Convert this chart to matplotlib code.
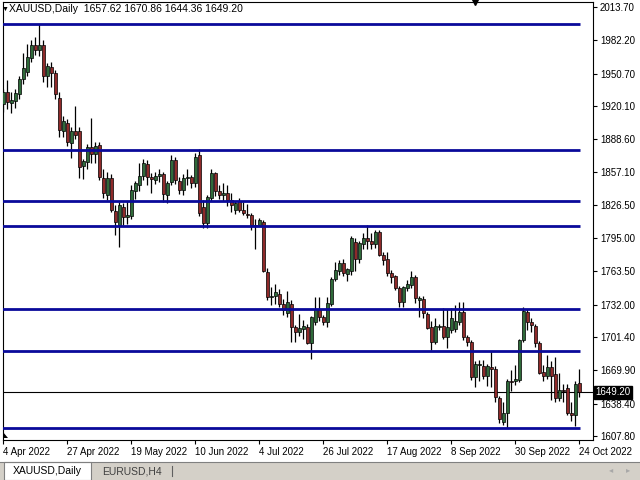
import numpy as np
import pandas as pd
import matplotlib
matplotlib.use("Agg")
import matplotlib.pyplot as plt
from matplotlib.patches import Rectangle, Polygon
from matplotlib.lines import Line2D

plt.rcParams['font.family'] = ['Liberation Sans', 'DejaVu Sans']

# daily bars, Good Friday missing from the feed
dates = pd.bdate_range("2022-04-04", "2022-10-24")
dates = dates[dates != pd.Timestamp("2022-04-15")]

opens = [1922, 1933, 1923, 1925, 1931, 1946, 1952, 1965, 1978, 1973,
         1978, 1948, 1957, 1951, 1928, 1896, 1904, 1885, 1896, 1896,
         1863, 1867, 1881, 1875, 1883, 1852, 1836, 1852, 1821, 1807,
         1824, 1815, 1816, 1840, 1845, 1854, 1865, 1853, 1850, 1854,
         1856, 1836, 1848, 1869, 1849, 1841, 1852, 1853, 1847, 1874,
         1824, 1809, 1833, 1857, 1840, 1836, 1838, 1831, 1822, 1830,
         1822, 1818, 1817, 1807, 1807, 1810, 1763, 1739, 1740, 1742,
         1733, 1724, 1733, 1711, 1706, 1709, 1711, 1696, 1716, 1728,
         1720, 1716, 1733, 1756, 1764, 1771, 1761, 1764, 1791, 1775,
         1789, 1795, 1792, 1789, 1801, 1779, 1775, 1762, 1759, 1748,
         1735, 1748, 1751, 1758, 1736, 1737, 1723, 1711, 1697, 1711,
         1712, 1701, 1708, 1709, 1716, 1725, 1701, 1697, 1664, 1675,
         1674, 1665, 1673, 1671, 1644, 1621, 1630, 1660, 1660, 1661,
         1699, 1725, 1716, 1712, 1696, 1668, 1665, 1673, 1666, 1644,
         1651, 1653, 1630, 1628, 1657.62]
highs = [1936, 1945, 1933, 1936, 1948, 1970, 1979, 1982, 1985, 1998,
         1982, 1961, 1962, 1954, 1933, 1911, 1908, 1900, 1920, 1900,
         1870, 1884, 1909, 1886, 1886, 1860, 1858, 1856, 1826, 1829,
         1828, 1830, 1845, 1849, 1866, 1870, 1869, 1857, 1858, 1860,
         1858, 1849, 1874, 1872, 1853, 1856, 1860, 1855, 1876, 1879,
         1831, 1836, 1860, 1858, 1845, 1847, 1845, 1838, 1830, 1833,
         1829, 1827, 1819, 1813, 1814, 1812, 1767, 1749, 1752, 1747,
         1737, 1745, 1736, 1713, 1723, 1718, 1714, 1721, 1739, 1739,
         1722, 1739, 1758, 1772, 1774, 1775, 1767, 1797, 1795, 1792,
         1800, 1807, 1800, 1803, 1803, 1782, 1782, 1765, 1760, 1750,
         1750, 1755, 1764, 1760, 1740, 1740, 1725, 1717, 1719, 1714,
         1729, 1728, 1729, 1732, 1735, 1735, 1703, 1699, 1679, 1680,
         1680, 1676, 1688, 1674, 1646, 1640, 1662, 1670, 1675, 1700,
         1730, 1728, 1719, 1714, 1698, 1675, 1684, 1679, 1683, 1667,
         1657, 1657, 1640, 1660, 1670.86]
lows = [1914, 1917, 1913, 1918, 1927, 1941, 1948, 1962, 1968, 1967,
        1943, 1938, 1938, 1927, 1891, 1891, 1882, 1871, 1889, 1852,
        1851, 1860, 1866, 1866, 1850, 1833, 1831, 1820, 1798, 1787,
        1807, 1808, 1813, 1832, 1840, 1850, 1845, 1838, 1846, 1848,
        1829, 1828, 1845, 1846, 1837, 1836, 1845, 1842, 1843, 1816,
        1805, 1805, 1830, 1835, 1832, 1830, 1825, 1820, 1818, 1820,
        1817, 1814, 1803, 1785, 1806, 1763, 1736, 1732, 1733, 1730,
        1722, 1720, 1697, 1697, 1702, 1700, 1695, 1681, 1713, 1717,
        1713, 1711, 1731, 1754, 1760, 1759, 1754, 1760, 1764, 1771,
        1785, 1785, 1785, 1786, 1778, 1770, 1759, 1753, 1746, 1730,
        1730, 1745, 1748, 1734, 1720, 1719, 1709, 1689, 1695, 1708,
        1700, 1691, 1705, 1706, 1713, 1699, 1693, 1661, 1654, 1660,
        1662, 1655, 1654, 1640, 1620, 1618, 1615, 1650, 1656, 1659,
        1697, 1708, 1706, 1692, 1666, 1660, 1662, 1642, 1640, 1641,
        1640, 1628, 1622, 1617, 1644.36]
closes = [1933, 1924, 1926, 1932, 1946, 1956, 1966, 1978, 1973, 1978,
          1948, 1958, 1951, 1931, 1897, 1906, 1886, 1896, 1893, 1862,
          1868, 1881, 1875, 1882, 1853, 1838, 1852, 1822, 1810, 1826,
          1815, 1817, 1841, 1847, 1854, 1866, 1853, 1851, 1854, 1856,
          1837, 1847, 1869, 1850, 1841, 1852, 1853, 1847, 1872, 1819,
          1809, 1834, 1857, 1840, 1836, 1838, 1831, 1826, 1828, 1822,
          1819, 1817, 1807, 1806, 1812, 1764, 1739, 1740, 1744, 1733,
          1727, 1735, 1711, 1706, 1710, 1712, 1696, 1720, 1728, 1720,
          1716, 1734, 1756, 1765, 1771, 1762, 1766, 1795, 1775, 1790,
          1795, 1792, 1789, 1801, 1779, 1774, 1762, 1758, 1748, 1735,
          1749, 1752, 1758, 1738, 1738, 1724, 1710, 1697, 1712, 1712,
          1701, 1711, 1719, 1717, 1725, 1701, 1697, 1664, 1676, 1676,
          1665, 1674, 1671, 1645, 1624, 1630, 1660, 1659, 1662, 1699,
          1726, 1716, 1713, 1696, 1667, 1665, 1673, 1665, 1644, 1651,
          1650, 1630, 1628, 1657, 1649.20]

levels = [1997.6, 1878.4, 1830.1, 1806.5, 1728.0, 1688.2, 1615.3]
last_price = 1649.20
price_ticks = [2013.70, 1982.20, 1950.70, 1920.10, 1888.60, 1857.10, 1826.50,
               1795.00, 1763.50, 1732.00, 1701.40, 1669.90, 1638.40, 1607.80]

o = np.array(opens, float)
h = np.array(highs, float)
l = np.array(lows, float)
c = np.array(closes, float)
x = np.arange(len(dates))

fig = plt.figure(figsize=(6.4, 4.8), dpi=100)
ax = fig.add_axes([3/640, 40/480, 590/640, 438/480])

bull = '#2f6a3a'
bear = '#8e2a2a'
cols = np.where(c >= o, bull, bear)
ax.vlines(x, l, h, color='black', lw=0.9, zorder=2)
body = np.maximum(np.abs(c - o), 0.8)
ax.bar(x, body, bottom=np.minimum(o, c), width=0.75, color=cols,
       edgecolor='black', linewidth=0.5, zorder=3)

ax.hlines(levels, -1, 144.25, color='#0a0a9a', lw=2, zorder=4)
ax.axhline(last_price, color='black', lw=0.8, zorder=1)

ax.set_xlim(-0.1, 147.4)
ax.set_ylim(1604.0, 2018.4)

ax.yaxis.tick_right()
ax.set_yticks(price_ticks)
ax.set_yticklabels([f"{v:.2f}" for v in price_ticks])
ax.tick_params(axis='y', direction='out', length=3, pad=2, labelsize=7)

xt = list(range(0, len(dates), 16))
ax.set_xticks(xt)
ax.set_xticklabels([f"{dates[i].day} {dates[i].strftime('%b %Y')}" for i in xt],
                   ha='left')
ax.tick_params(axis='x', direction='out', length=3, pad=2, labelsize=7)
for s in ax.spines.values():
    s.set_linewidth(0.8)

ax.text(1.004, last_price, f"{last_price:.2f}", transform=ax.get_yaxis_transform(),
        color='white', fontsize=7, va='center', ha='left',
        bbox=dict(facecolor='black', edgecolor='black', pad=1.2))

# header
fig.text(2/640, 1 - 9/480, "\u25bc", fontsize=5, va='center')
fig.text(9/640, 1 - 9/480, "XAUUSD,Daily  1657.62 1670.86 1644.36 1649.20",
         fontsize=7.5, va='center')
ax.plot([0.8], [1.0], marker='v', color='black', ms=4, transform=ax.transAxes,
        clip_on=False)
# small shift marker bottom-left
fig.add_artist(Polygon([[3/640, 48/480], [3/640, 42/480], [8/640, 42/480]],
                       closed=True, transform=fig.transFigure,
                       facecolor='black', edgecolor='none'))

# tab bar
fig.add_artist(Rectangle((0, 0), 1, 18/480, transform=fig.transFigure,
                         facecolor='#d4d0c8', edgecolor='none'))
fig.add_artist(Line2D([0, 1], [18.5/480, 18.5/480], transform=fig.transFigure,
                      color='#808080', lw=0.8))
fig.add_artist(Rectangle((4/640, 0), 87/640, 18.5/480, transform=fig.transFigure,
                         facecolor='white', edgecolor='#808080', lw=0.8))
fig.text(13/640, 9/480, "XAUUSD,Daily", fontsize=7.5, va='center')
fig.text(102/640, 9/480, "EURUSD,H4", fontsize=7.5, va='center', color='#404040')
fig.add_artist(Line2D([172/640, 172/640], [4/480, 14/480], transform=fig.transFigure,
                      color='#606060', lw=0.8))
fig.text(609/640, 9/480, "\u25c2", fontsize=6, va='center', color='#a8a8a8')
fig.text(626/640, 9/480, "\u25b8", fontsize=6, va='center', color='#a8a8a8')

fig.savefig("out.png", dpi=100)
